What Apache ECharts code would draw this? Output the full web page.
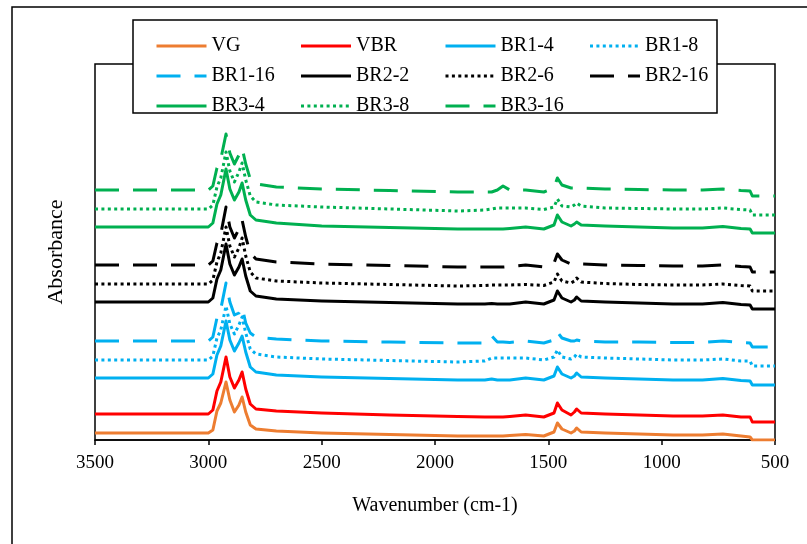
<!DOCTYPE html>
<html>
<head>
<meta charset="utf-8">
<script src="https://cdn.jsdelivr.net/npm/echarts@6/dist/echarts.min.js"></script>
<style>
html,body{margin:0;padding:0;background:#fff;}
#chart{width:807px;height:544px;}
</style>
</head>
<body>
<div id="chart"></div>
<script>
// Wavenumber grid (cm-1) shared by all spectra
const wavenumbers = [3500, 3200, 3000, 2980, 2962, 2945, 2922, 2905, 2885, 2865, 2851, 2835, 2815, 2790, 2700, 2500, 2200, 1900, 1780, 1750, 1725, 1700, 1670, 1600, 1520, 1475, 1460, 1440, 1400, 1385, 1375, 1355, 1250, 1100, 950, 820, 730, 650, 610, 600, 500];

// Absorbance (offset, arbitrary units)
const VG     = [0.07,0.07,0.07,0.10,0.29,0.37,0.58,0.40,0.28,0.35,0.43,0.28,0.15,0.11,0.09,0.07,0.055,0.04,0.04,0.04,0.04,0.04,0.045,0.055,0.04,0.08,0.17,0.11,0.07,0.09,0.12,0.08,0.07,0.06,0.05,0.05,0.06,0.04,0.03,0.00,0.00];
const VBR    = [0.26,0.26,0.26,0.30,0.49,0.58,0.83,0.63,0.52,0.60,0.68,0.51,0.36,0.31,0.29,0.27,0.25,0.235,0.23,0.23,0.23,0.23,0.235,0.25,0.23,0.27,0.37,0.30,0.25,0.28,0.31,0.27,0.26,0.25,0.24,0.24,0.25,0.23,0.23,0.18,0.18];
const BR1_4  = [0.62,0.62,0.62,0.66,0.85,0.94,1.19,1.00,0.89,0.97,1.04,0.88,0.73,0.68,0.65,0.63,0.615,0.60,0.60,0.61,0.60,0.60,0.60,0.62,0.60,0.64,0.73,0.66,0.62,0.64,0.67,0.63,0.62,0.61,0.60,0.60,0.615,0.595,0.59,0.55,0.55];
const BR1_8  = [0.80,0.80,0.80,0.84,1.02,1.10,1.34,1.16,1.06,1.15,1.23,1.07,0.91,0.86,0.83,0.81,0.795,0.78,0.79,0.82,0.82,0.82,0.82,0.82,0.80,0.83,0.90,0.83,0.81,0.83,0.86,0.83,0.82,0.81,0.80,0.80,0.81,0.79,0.79,0.74,0.74];
const BR1_16 = [0.99,0.99,0.99,1.03,1.22,1.31,1.57,1.38,1.25,1.27,1.33,1.17,1.07,1.03,1.01,0.99,0.98,0.97,0.97,1.04,0.98,0.98,0.975,0.99,0.97,1.00,1.08,1.02,0.99,0.99,1.00,0.99,0.98,0.98,0.975,0.975,0.99,0.975,0.97,0.93,0.93];
const BR2_2  = [1.38,1.38,1.38,1.42,1.61,1.70,1.96,1.76,1.65,1.73,1.81,1.64,1.49,1.44,1.41,1.39,1.375,1.36,1.36,1.365,1.36,1.36,1.36,1.38,1.36,1.40,1.49,1.42,1.38,1.40,1.43,1.39,1.38,1.37,1.36,1.36,1.375,1.355,1.35,1.31,1.31];
const BR2_6  = [1.56,1.56,1.56,1.60,1.78,1.87,2.13,1.94,1.83,1.92,2.02,1.84,1.68,1.62,1.59,1.57,1.555,1.54,1.545,1.55,1.55,1.55,1.55,1.555,1.545,1.58,1.66,1.59,1.57,1.59,1.62,1.58,1.565,1.555,1.55,1.55,1.56,1.545,1.54,1.49,1.49];
const BR2_16 = [1.75,1.75,1.75,1.79,1.97,2.06,2.33,2.13,2.02,2.11,2.20,2.03,1.87,1.81,1.78,1.76,1.745,1.73,1.73,1.73,1.73,1.73,1.735,1.75,1.73,1.77,1.86,1.80,1.76,1.765,1.77,1.76,1.75,1.745,1.74,1.74,1.75,1.735,1.73,1.68,1.68];
const BR3_4  = [2.13,2.13,2.13,2.17,2.36,2.45,2.71,2.51,2.40,2.48,2.57,2.40,2.25,2.20,2.17,2.14,2.125,2.11,2.11,2.11,2.11,2.11,2.115,2.13,2.11,2.15,2.25,2.18,2.14,2.16,2.18,2.15,2.14,2.13,2.12,2.12,2.135,2.115,2.11,2.07,2.07];
const BR3_8  = [2.31,2.31,2.31,2.35,2.53,2.62,2.88,2.69,2.58,2.68,2.77,2.60,2.44,2.38,2.35,2.33,2.31,2.29,2.30,2.31,2.32,2.32,2.32,2.32,2.305,2.33,2.41,2.34,2.33,2.35,2.37,2.34,2.32,2.315,2.31,2.31,2.32,2.305,2.30,2.25,2.25];
const BR3_16 = [2.50,2.50,2.50,2.54,2.72,2.81,3.06,2.87,2.76,2.85,2.92,2.76,2.61,2.56,2.53,2.51,2.495,2.48,2.48,2.48,2.50,2.54,2.50,2.50,2.48,2.52,2.62,2.55,2.52,2.52,2.525,2.52,2.51,2.505,2.50,2.50,2.51,2.495,2.49,2.44,2.44];

const seriesNames = ['VG','VBR','BR1-4','BR1-8','BR1-16','BR2-2','BR2-6','BR2-16','BR3-4','BR3-8','BR3-16'];
const seriesValues = [VG, VBR, BR1_4, BR1_8, BR1_16, BR2_2, BR2_6, BR2_16, BR3_4, BR3_8, BR3_16];
const xTicks = [3500, 3000, 2500, 2000, 1500, 1000, 500];

const colors = ['#ED7D31','#FF0000','#00B0F0','#00B0F0','#00B0F0','#000000','#000000','#000000','#00B050','#00B050','#00B050'];
const styles = ['solid','solid','solid','dot','dash','solid','dot','dash','solid','dot','dash'];
const FONT = '"Liberation Serif", "Times New Roman", serif';

function lineType(s){
  if (s === 'dot') return [3, 3.4];
  if (s === 'dash') return [24, 14];
  return 'solid';
}

const series = seriesNames.map((name, k) => ({
  name: name,
  type: 'line',
  showSymbol: false,
  symbol: 'none',
  smooth: false,
  animation: false,
  z: 3,
  lineStyle: { color: colors[k], width: 3, type: lineType(styles[k]), cap: 'butt', join: 'round' },
  itemStyle: { color: colors[k] },
  data: wavenumbers.map((w, i) => [w, seriesValues[k][i]])
}));

const chart = echarts.init(document.getElementById('chart'), null, { renderer: 'canvas' });
chart.setOption({
  animation: false,
  backgroundColor: '#ffffff',
  graphic: [
    { type: 'rect', z: 0, silent: true, shape: { x: 12, y: 7, width: 900, height: 700 }, style: { fill: 'none', stroke: '#000', lineWidth: 1.5 } },
    { type: 'rect', z: 50, silent: true, shape: { x: 133, y: 20, width: 584, height: 93 }, style: { fill: '#fff', stroke: '#000', lineWidth: 1.5 } }
  ],
  grid: { left: 95, right: 32, top: 64, bottom: 104, show: true, borderColor: '#000', borderWidth: 1.5, backgroundColor: 'transparent' },
  legend: {
    z: 60,
    left: 150, top: 31, width: 600,
    itemWidth: 50, itemHeight: 10, itemGap: 10,
    data: seriesNames,
    itemStyle: { opacity: 0 },
    lineStyle: { width: 3 },
    textStyle: { fontFamily: FONT, fontSize: 20, color: '#000', width: 78, lineHeight: 19, padding: [0,0,0,0] }
  },
  xAxis: {
    type: 'value', min: 500, max: 3500, interval: 500, inverse: true,
    name: 'Wavenumber (cm-1)', nameLocation: 'middle', nameGap: 56,
    nameTextStyle: { fontFamily: FONT, fontSize: 20, color: '#000' },
    axisLine: { show: true, onZero: false, lineStyle: { color: '#000', width: 1.5 } },
    axisTick: { show: true, inside: false, length: 5, lineStyle: { color: '#000', width: 1.5 } },
    axisLabel: { fontFamily: FONT, fontSize: 19, color: '#000', margin: 14,
      formatter: v => (xTicks.indexOf(v) >= 0 ? String(v) : '') },
    splitLine: { show: false }
  },
  yAxis: {
    type: 'value', min: 0, max: 3.76,
    name: 'Absorbance', nameLocation: 'middle', nameGap: 28,
    nameTextStyle: { fontFamily: FONT, fontSize: 22, color: '#000' },
    axisLine: { show: false }, axisTick: { show: false }, axisLabel: { show: false }, splitLine: { show: false }
  },
  series: series
});
</script>
</body>
</html>
